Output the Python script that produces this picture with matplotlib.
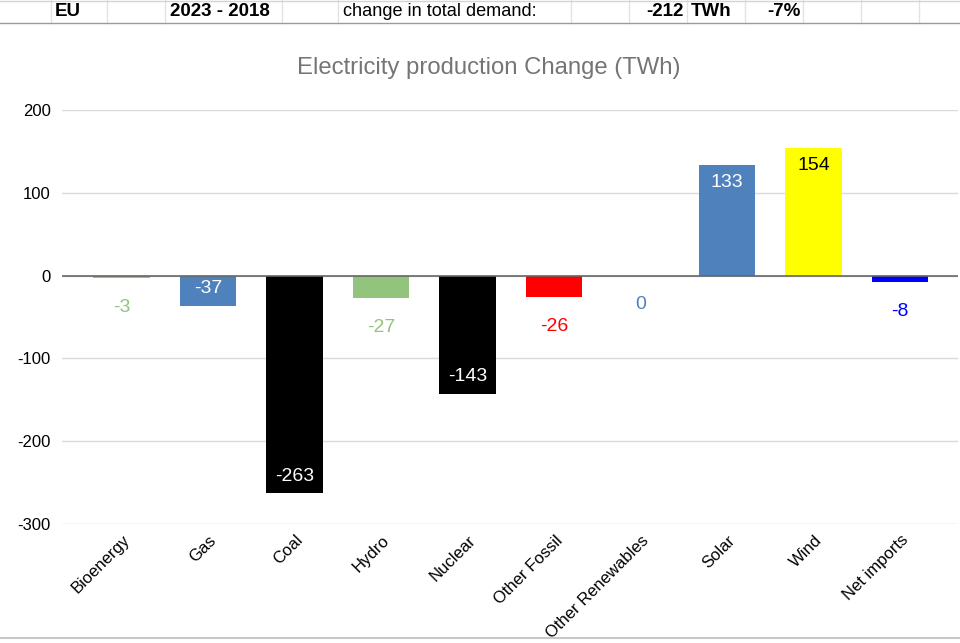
import matplotlib
matplotlib.use("Agg")
import matplotlib.pyplot as plt
from matplotlib.lines import Line2D
from matplotlib.transforms import ScaledTranslation

plt.rcParams["font.family"] = ["Liberation Sans", "DejaVu Sans"]

# ----- data -----
categories = ["Bioenergy", "Gas", "Coal", "Hydro", "Nuclear", "Other Fossil",
              "Other Renewables", "Solar", "Wind", "Net imports"]
changes = [-3, -37, -263, -27, -143, -26, 0, 133, 154, -8]
bar_colors = ["#93c47d", "#4f81bd", "#000000", "#93c47d", "#000000", "#ff0000",
              "#4f81bd", "#4f81bd", "#ffff00", "#0000ff"]
label_inside = [False, True, True, False, True, False, False, True, True, False]
label_colors = ["#93c47d", "#ffffff", "#ffffff", "#93c47d", "#ffffff", "#ff0000",
                "#4f81bd", "#ffffff", "#000000", "#0000ff"]
y_ticks = [-300, -200, -100, 0, 100, 200]

# spreadsheet header row: (text, x in px, alignment, bold)
header_cells = [("EU", 55, "left", True),
                ("2023 - 2018", 170, "left", True),
                ("change in total demand:", 343, "left", False),
                ("-212", 684, "right", True),
                ("TWh", 691, "left", True),
                ("-7%", 801, "right", True)]
header_borders = [51, 107, 165, 282, 338, 571, 629, 687, 745, 803, 861, 919]

W, H = 960, 643
fig = plt.figure(figsize=(W / 100, H / 100), dpi=100)

# ----- header row -----
for xb in header_borders:
    fig.add_artist(Line2D([xb / W, xb / W], [1 - 0 / H, 1 - 23 / H],
                          color="#e2e2e2", lw=1))
fig.add_artist(Line2D([0, 1], [1 - 0.5 / H, 1 - 0.5 / H], color="#d4d4d4", lw=1))
fig.add_artist(Line2D([0, 1], [1 - 23 / H, 1 - 23 / H], color="#9a9a9a", lw=1))
fig.add_artist(Line2D([0, 1], [1 - 638 / H, 1 - 638 / H], color="#c8c8c8", lw=1.5))
for txt, xp, ha, bold in header_cells:
    fig.text(xp / W, 1 - 12 / H, txt, ha=ha, va="center",
             fontsize=13.5 if bold else 13.1,
             fontweight="bold" if bold else "normal", color="#000000")

# ----- chart -----
ax = fig.add_axes([62 / W, (H - 524) / H, (958 - 62) / W, (524 - 110) / H])
x = list(range(len(categories)))
ax.bar(x, changes, width=0.65, color=bar_colors, zorder=2)
ax.set_xlim(-0.688, 9.67)
ax.set_ylim(-300, 200)
ax.set_yticks(y_ticks)
ax.set_yticklabels([str(v) for v in y_ticks], fontsize=12, color="#000000")
ax.grid(axis="y", color="#d9d9d9", lw=1, zorder=0)
ax.axhline(0, color="#666666", lw=1.2, zorder=3)
for s in ax.spines.values():
    s.set_visible(False)
ax.tick_params(axis="both", length=0, pad=8)

ax.set_xticks(x)
ax.set_xticklabels(categories, rotation=45, ha="right", va="center",
                   rotation_mode="anchor", fontsize=12, color="#000000")
ax.tick_params(axis="x", pad=10)
shift = ScaledTranslation(6 / 100, 0, fig.dpi_scale_trans)
for lab in ax.get_xticklabels():
    lab.set_transform(lab.get_transform() + shift)

for xi, v, inside, c in zip(x, changes, label_inside, label_colors):
    if inside:
        dy = -12.5 if v > 0 else 12.5
    else:
        dy = 21 if v > 0 else -21
    ax.annotate(str(v), (xi, v), xytext=(0, dy), textcoords="offset points",
                ha="center", va="center", fontsize=14, color=c, zorder=4)

fig.text(489 / W, 1 - 68 / H, "Electricity production Change (TWh)",
         ha="center", va="center", fontsize=17.2, color="#757575")

fig.savefig("out.png", dpi=100)
